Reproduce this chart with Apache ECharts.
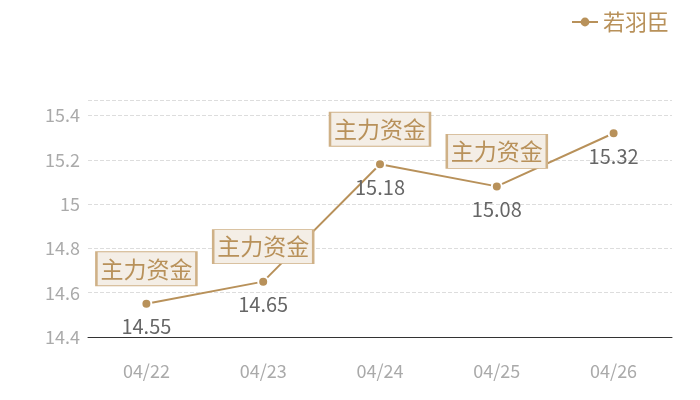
<!DOCTYPE html>
<html>
<head>
<meta charset="utf-8">
<script src="https://cdn.jsdelivr.net/npm/echarts@6/dist/echarts.min.js"></script>
<style>
  html, body { margin: 0; padding: 0; background: #fff; }
  #main { width: 700px; height: 400px; }
</style>
</head>
<body>
<div id="main"></div>
<script>
// 数据
var dates = ['04/22', '04/23', '04/24', '04/25', '04/26'];
var prices = [14.55, 14.65, 15.18, 15.08, 15.32];
var markIdx = [0, 1, 2, 3];   // 标注"主力资金"的点
var markText = '主力资金';

var gold = '#b8915a';

var chart = echarts.init(document.getElementById('main'));

var marks = [];
for (var i = 0; i < markIdx.length; i++) {
  marks.push({ coord: [markIdx[i], prices[markIdx[i]]] });
}

var option = {
  textStyle: { fontFamily: 'Noto Sans CJK SC' },
  legend: {
    right: 26,
    top: 6,
    itemWidth: 26,
    itemHeight: 11,
    itemGap: 6,
    itemStyle: { borderWidth: 0 },
    textStyle: { color: gold, fontSize: 22 },
    data: ['若羽臣']
  },
  grid: { left: 88, right: 28, top: 100, bottom: 63 },
  xAxis: {
    type: 'category',
    data: dates,
    axisTick: { show: false },
    axisLine: { lineStyle: { color: '#333', width: 1 } },
    axisLabel: { color: '#aaa', fontSize: 18, margin: 25 }
  },
  yAxis: {
    type: 'value',
    min: 14.4,
    max: 15.47,
    interval: 0.2,
    axisLine: { show: false },
    axisTick: { show: false },
    axisLabel: { color: '#aaa', fontSize: 18, margin: 8, showMaxLabel: false },
    splitLine: { lineStyle: { color: '#ddd', type: 'dashed' } }
  },
  series: [{
    name: '若羽臣',
    type: 'line',
    data: prices,
    symbol: 'circle',
    symbolSize: 10,
    lineStyle: { color: gold, width: 2 },
    itemStyle: { color: gold, borderColor: '#fff', borderWidth: 2 },
    label: {
      show: true,
      position: 'bottom',
      distance: 7,
      color: '#666',
      fontSize: 20
    },
    markPoint: {
      symbol: 'rect',
      symbolSize: [100, 34],
      symbolOffset: [0, -35],
      itemStyle: { color: '#f4eee6', borderColor: '#cfb187', borderWidth: 1.5 },
      label: {
        show: true,
        position: 'inside',
        formatter: markText,
        color: gold,
        fontSize: 23
      },
      data: marks
    }
  }]
};

chart.setOption(option);
</script>
</body>
</html>
